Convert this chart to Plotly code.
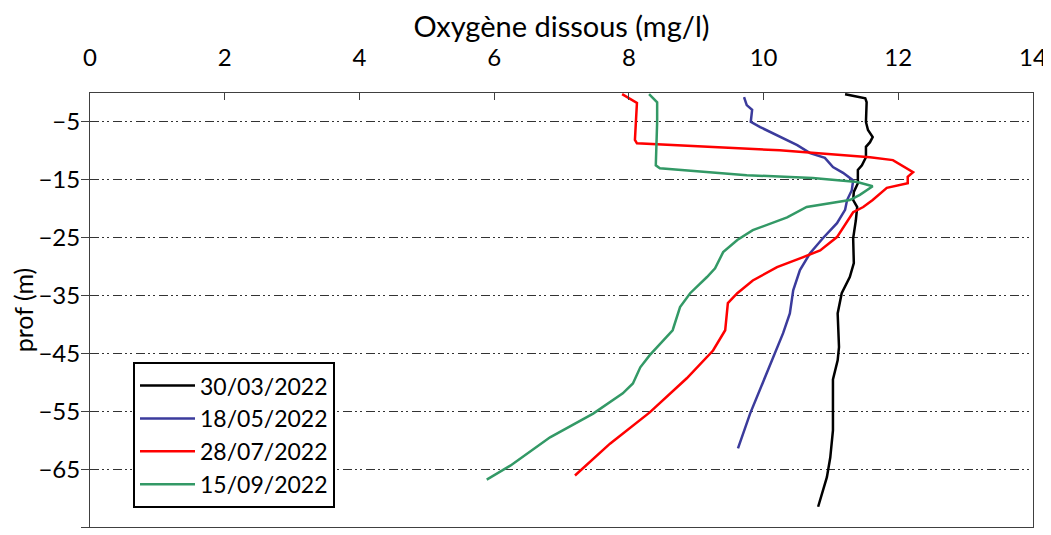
import plotly.graph_objects as go

# ---- data ----
d1_label = "30/03/2022"
d1_o2 = [11.21, 11.51, 11.53, 11.52, 11.55, 11.62, 11.58, 11.52, 11.52, 11.46, 11.40, 11.40, 11.34, 11.33, 11.39, 11.37, 11.33, 11.34, 11.28, 11.16, 11.10, 11.12, 11.10, 11.06, 11.03, 11.03, 10.99, 10.94, 10.81]
d1_z = [-0.2, -0.9, -1.6, -5.0, -6.4, -7.6, -8.5, -9.3, -11.1, -12.5, -13.3, -15.6, -17.1, -18.5, -19.7, -22.0, -25.1, -29.4, -31.8, -34.6, -38.1, -43.9, -46.2, -48.4, -49.5, -58.3, -63.0, -66.4, -71.5]

d2_label = "18/05/2022"
d2_o2 = [9.71, 9.75, 9.83, 9.81, 9.95, 10.24, 10.50, 10.69, 10.91, 11.03, 11.18, 11.33, 11.31, 11.24, 11.21, 11.09, 10.88, 10.69, 10.54, 10.44, 10.39, 10.29, 10.14, 9.95, 9.80, 9.62]
d2_z = [-0.7, -2.1, -2.9, -5.0, -5.9, -7.6, -9.0, -10.4, -11.2, -12.8, -13.8, -15.1, -16.8, -18.5, -20.2, -22.5, -25.1, -27.7, -30.6, -34.1, -38.1, -41.5, -45.7, -50.9, -55.4, -61.4]

d3_label = "28/07/2022"
d3_o2 = [7.90, 8.06, 8.12, 8.09, 8.12, 10.24, 11.58, 11.92, 12.10, 12.22, 12.14, 12.14, 11.83, 11.62, 11.48, 11.33, 11.09, 10.84, 10.58, 10.20, 9.84, 9.61, 9.47, 9.43, 9.25, 8.86, 8.31, 7.72, 7.20]
d3_z = [-0.2, -1.2, -1.7, -8.1, -8.7, -9.9, -11.1, -11.6, -12.8, -13.7, -14.5, -15.6, -16.4, -18.5, -19.7, -20.6, -24.9, -27.2, -28.4, -30.1, -32.4, -34.6, -36.3, -41.0, -44.5, -49.3, -55.2, -60.6, -66.1]

d4_label = "15/09/2022"
d4_o2 = [8.30, 8.42, 8.42, 8.40, 8.46, 9.75, 10.73, 11.39, 11.62, 11.43, 11.28, 10.64, 10.35, 9.84, 9.61, 9.40, 9.28, 9.16, 8.91, 8.76, 8.65, 8.31, 8.17, 8.06, 7.91, 7.47, 6.83, 6.24, 5.89]
d4_z = [-0.2, -1.6, -5.0, -12.5, -13.0, -14.2, -14.7, -15.4, -16.1, -17.6, -18.5, -19.7, -21.5, -23.7, -25.4, -27.5, -30.3, -31.8, -34.6, -37.0, -41.0, -45.3, -47.4, -50.2, -51.9, -55.4, -59.5, -64.4, -66.8]

x_ticks = [0, 2, 4, 6, 8, 10, 12, 14]
y_ticks = [-5, -15, -25, -35, -45, -55, -65, -75]

series = [
    (d1_label, d1_o2, d1_z, "#000000"),
    (d2_label, d2_o2, d2_z, "#3b3b9c"),
    (d3_label, d3_o2, d3_z, "#ff0000"),
    (d4_label, d4_o2, d4_z, "#339966"),
]

FONT = "Lato, sans-serif"

fig = go.Figure()
for i, (lab, xo, zz, col) in enumerate(series):
    fig.add_trace(go.Scatter(x=xo, y=zz, mode="lines", name=lab,
                             line=dict(color=col, width=2.5)))

# page body has an 8px default margin; figure is sized/offset to compensate
fig.update_layout(
    width=1043, height=527,
    margin=dict(l=82, r=18, t=85, b=8, autoexpand=False),
    paper_bgcolor="white", plot_bgcolor="white",
    font=dict(family=FONT, size=24, color="#000000"),
    showlegend=True,
    legend=dict(x=0.0456, y=0.38, xanchor="left", yanchor="top",
                bordercolor="#000000", borderwidth=2,
                bgcolor="white", font=dict(size=23, family=FONT),
                itemwidth=55),
)
fig.update_xaxes(
    side="top", range=[0, 14], tickvals=x_ticks,
    ticks="inside", ticklen=7, tickcolor="#404040",
    showline=True, linecolor="#404040", linewidth=1, mirror=True,
    showgrid=False, zeroline=False, automargin=False,
    ticklabelstandoff=16,
    tickfont=dict(size=24),
    title=dict(text="Oxygène dissous (mg/l)", font=dict(size=29), standoff=9),
)
fig.update_yaxes(
    range=[-75, 0], tickvals=y_ticks,
    ticks="outside", ticklen=8, tickcolor="#404040",
    showline=True, linecolor="#404040", linewidth=1, mirror=True,
    showgrid=True, gridcolor="#333333", gridwidth=1,
    griddash="9px,3px,2px,3px,2px,4px",
    zeroline=False, automargin=False,
    ticklabelstandoff=-4,
    tickfont=dict(size=24),
    title=dict(text="prof (m)", font=dict(size=25), standoff=0),
)

fig.write_html("out.html")
